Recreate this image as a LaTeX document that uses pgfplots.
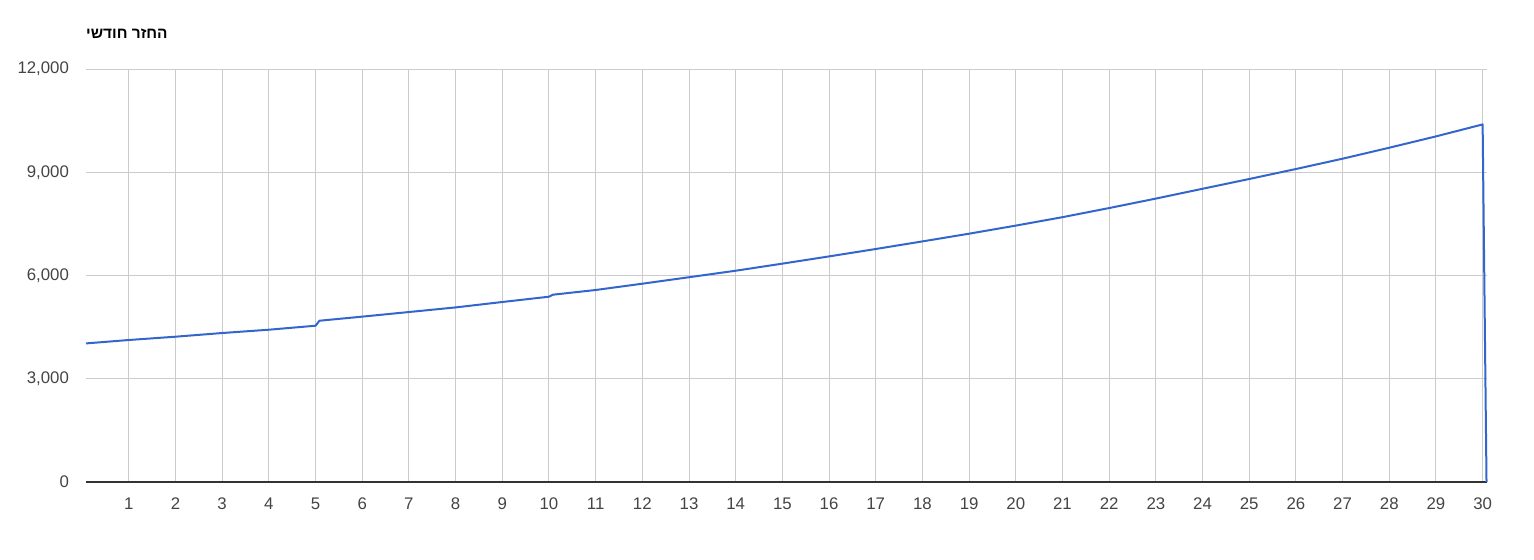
\documentclass[border=0pt]{standalone}
\usepackage{pgfplots}
\pgfplotsset{compat=1.18}
\usepackage{fontspec}
\setmainfont{Liberation Sans}
\TeXXeTstate=1
\definecolor{lineblue}{HTML}{3366CC}
\definecolor{gridgrey}{HTML}{CCCCCC}
\definecolor{ticktext}{HTML}{444444}
\definecolor{axisdark}{HTML}{333333}
\begin{document}
\begin{tikzpicture}
\path[use as bounding box] (0,0) rectangle (767pt,279.5pt);
\node[anchor=base east, font=\bfseries\fontsize{7.7}{9}\selectfont, inner sep=0pt] at (84pt,260.5pt) {\beginR החזר חודשי\endR};
\begin{axis}[
  at={(43pt,38.5pt)}, anchor=south west,
  scale only axis, width=700.5pt, height=206.5pt,
  xmin=0.0833, xmax=30.094, ymin=0, ymax=12000,
  xtick={1,...,30}, ytick={3000,6000,9000,12000},
  scaled ticks=false,
  extra y ticks={0},
  extra y tick style={grid style={color=axisdark, line width=0.55pt}},
  grid=major, grid style={color=gridgrey, line width=0.5pt},
  axis line style={draw=none},
  major tick length=0pt,
  tick label style={font=\fontsize{8.4}{10}\selectfont, text=ticktext},
  /pgf/number format/assume math mode=true,
  /pgf/number format/.cd, 1000 sep={,},
  /pgfplots/.cd,
  xticklabel style={yshift=-4.3pt},
  yticklabel style={xshift=-5pt},
  clip=false,
]
\addplot[color=lineblue, line width=1pt, line join=round] coordinates {
(0.0833,4027) (1,4126) (2,4222) (3,4329) (4,4425) (5,4541) (5.0833,4686)
(6,4805) (7,4939) (8,5073) (9,5230) (10,5384) (10.0833,5442) (11,5579)
(12,5762) (13,5950) (14,6139) (15,6345) (16,6555) (17,6770) (18,6991)
(19,7215) (20,7450) (21,7695) (22,7960) (23,8235) (24,8520) (25,8804)
(26,9094) (27,9394) (28,9713) (29,10042) (30,10390) (30.0833,0)
};
\end{axis}
\end{tikzpicture}
\end{document}
